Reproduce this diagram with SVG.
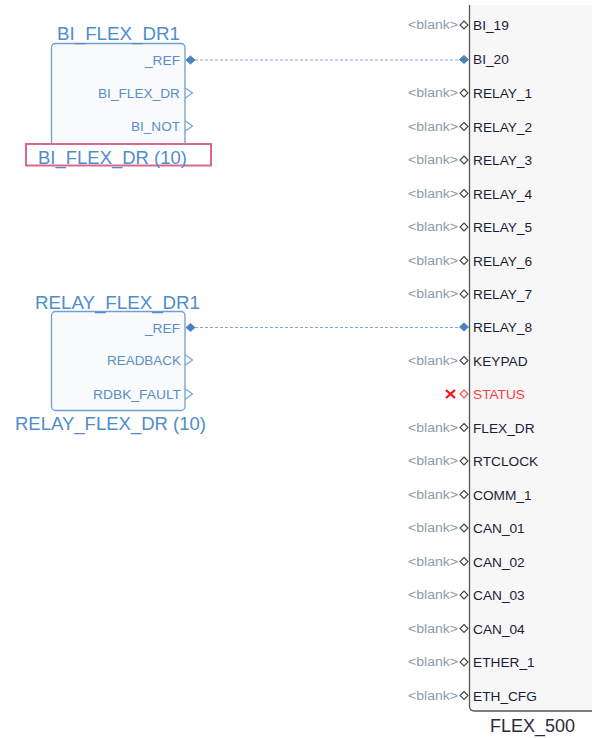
<svg xmlns="http://www.w3.org/2000/svg" width="592" height="738" viewBox="0 0 592 738">
<defs>
<style>
.blk{fill:#f9fafb;stroke:#6f9fd0;stroke-width:1.3}
.title{font-family:"Liberation Sans",Arial,sans-serif;font-size:18.5px;fill:#4f8dcb}
.pin{font-family:"Liberation Sans",Arial,sans-serif;font-size:13.7px;fill:#5a8ec8}
.fl{font-family:"Liberation Sans",Arial,sans-serif;font-size:13.7px;fill:#1c1c38}
.bl{font-family:"Liberation Sans",Arial,sans-serif;font-size:12.5px;fill:#8e9bab}
.hd{fill:#ffffff;stroke:#444;stroke-width:1.1}
.fd{fill:#4a84c0;stroke:#4a84c0;stroke-width:1}
.tri{fill:none;stroke:#6f9fd0;stroke-width:1.1}
.wire{stroke:#7ea6d3;stroke-width:1.2;stroke-dasharray:3,2;fill:none}
</style>
</defs>

<g id="FLEX_500">
<path d="M469.5,5 V706 Q469.5,711 474.5,711 H600 V5 Z" fill="#f7f7f7" stroke="none"/>
<path d="M469.5,5 V706 Q469.5,711 474.5,711 H600" fill="none" stroke="#555" stroke-width="1.3"/>
<text x="490" y="732" font-family="'Liberation Sans',Arial,sans-serif" font-size="18" fill="#2a2a3a" textLength="85" lengthAdjust="spacingAndGlyphs">FLEX_500</text>
<g class="rows">
<text class="bl" x="408" y="29" textLength="50" lengthAdjust="spacingAndGlyphs">&lt;blank&gt;</text><path class="hd" d="M464,21 L468,25 L464,29 L460,25 Z"/><text class="fl" x="473" y="30">BI_19</text>
<path class="fd" d="M464,55.5 L468.5,59.5 L464,63.5 L459.5,59.5 Z"/><text class="fl" x="473" y="64">BI_20</text>
<text class="bl" x="408" y="97" textLength="50" lengthAdjust="spacingAndGlyphs">&lt;blank&gt;</text><path class="hd" d="M464,89 L468,93 L464,97 L460,93 Z"/><text class="fl" x="473" y="98">RELAY_1</text>
<text class="bl" x="408" y="130.5" textLength="50" lengthAdjust="spacingAndGlyphs">&lt;blank&gt;</text><path class="hd" d="M464,122.5 L468,126.5 L464,130.5 L460,126.5 Z"/><text class="fl" x="473" y="131.5">RELAY_2</text>
<text class="bl" x="408" y="164" textLength="50" lengthAdjust="spacingAndGlyphs">&lt;blank&gt;</text><path class="hd" d="M464,156 L468,160 L464,164 L460,160 Z"/><text class="fl" x="473" y="165">RELAY_3</text>
<text class="bl" x="408" y="197.5" textLength="50" lengthAdjust="spacingAndGlyphs">&lt;blank&gt;</text><path class="hd" d="M464,189.5 L468,193.5 L464,197.5 L460,193.5 Z"/><text class="fl" x="473" y="198.5">RELAY_4</text>
<text class="bl" x="408" y="231" textLength="50" lengthAdjust="spacingAndGlyphs">&lt;blank&gt;</text><path class="hd" d="M464,223 L468,227 L464,231 L460,227 Z"/><text class="fl" x="473" y="232">RELAY_5</text>
<text class="bl" x="408" y="264.5" textLength="50" lengthAdjust="spacingAndGlyphs">&lt;blank&gt;</text><path class="hd" d="M464,256.5 L468,260.5 L464,264.5 L460,260.5 Z"/><text class="fl" x="473" y="265.5">RELAY_6</text>
<text class="bl" x="408" y="298" textLength="50" lengthAdjust="spacingAndGlyphs">&lt;blank&gt;</text><path class="hd" d="M464,290 L468,294 L464,298 L460,294 Z"/><text class="fl" x="473" y="299">RELAY_7</text>
<path class="fd" d="M464,323 L468.5,327 L464,331 L459.5,327 Z"/><text class="fl" x="473" y="332">RELAY_8</text>
<text class="bl" x="408" y="364.5" textLength="50" lengthAdjust="spacingAndGlyphs">&lt;blank&gt;</text><path class="hd" d="M464,356.5 L468,360.5 L464,364.5 L460,360.5 Z"/><text class="fl" x="473" y="365.5">KEYPAD</text>
<path d="M446,390 L455,398 M455,390 L446,398" stroke="#ee1111" stroke-width="2.2" fill="none"/><path d="M464,390 L468,394 L464,398 L460,394 Z" fill="#fff" stroke="#ff4d4d" stroke-width="1.1"/><text class="fl" x="473" y="399" style="fill:#ff3b3b">STATUS</text>
<text class="bl" x="408" y="431.5" textLength="50" lengthAdjust="spacingAndGlyphs">&lt;blank&gt;</text><path class="hd" d="M464,423.5 L468,427.5 L464,431.5 L460,427.5 Z"/><text class="fl" x="473" y="432.5">FLEX_DR</text>
<text class="bl" x="408" y="465" textLength="50" lengthAdjust="spacingAndGlyphs">&lt;blank&gt;</text><path class="hd" d="M464,457 L468,461 L464,465 L460,461 Z"/><text class="fl" x="473" y="466">RTCLOCK</text>
<text class="bl" x="408" y="498.5" textLength="50" lengthAdjust="spacingAndGlyphs">&lt;blank&gt;</text><path class="hd" d="M464,490.5 L468,494.5 L464,498.5 L460,494.5 Z"/><text class="fl" x="473" y="499.5">COMM_1</text>
<text class="bl" x="408" y="532" textLength="50" lengthAdjust="spacingAndGlyphs">&lt;blank&gt;</text><path class="hd" d="M464,524 L468,528 L464,532 L460,528 Z"/><text class="fl" x="473" y="533">CAN_01</text>
<text class="bl" x="408" y="565.5" textLength="50" lengthAdjust="spacingAndGlyphs">&lt;blank&gt;</text><path class="hd" d="M464,557.5 L468,561.5 L464,565.5 L460,561.5 Z"/><text class="fl" x="473" y="566.5">CAN_02</text>
<text class="bl" x="408" y="599" textLength="50" lengthAdjust="spacingAndGlyphs">&lt;blank&gt;</text><path class="hd" d="M464,591 L468,595 L464,599 L460,595 Z"/><text class="fl" x="473" y="600">CAN_03</text>
<text class="bl" x="408" y="632.5" textLength="50" lengthAdjust="spacingAndGlyphs">&lt;blank&gt;</text><path class="hd" d="M464,624.5 L468,628.5 L464,632.5 L460,628.5 Z"/><text class="fl" x="473" y="633.5">CAN_04</text>
<text class="bl" x="408" y="666" textLength="50" lengthAdjust="spacingAndGlyphs">&lt;blank&gt;</text><path class="hd" d="M464,658 L468,662 L464,666 L460,662 Z"/><text class="fl" x="473" y="667">ETHER_1</text>
<text class="bl" x="408" y="699.5" textLength="50" lengthAdjust="spacingAndGlyphs">&lt;blank&gt;</text><path class="hd" d="M464,691.5 L468,695.5 L464,699.5 L460,695.5 Z"/><text class="fl" x="473" y="700.5">ETH_CFG</text>
</g>
</g>

<g id="BI_FLEX_DR1">
<rect class="blk" x="51.5" y="43.5" width="133.5" height="104" rx="4"/>
<text class="title" x="57" y="40" textLength="123" lengthAdjust="spacingAndGlyphs">BI_FLEX_DR1</text>
<text class="pin" x="145" y="65" textLength="35" lengthAdjust="spacingAndGlyphs">_REF</text>
<path class="fd" d="M190.5,56 L195,60 L190.5,64 L186,60 Z"/>
<text class="pin" x="98" y="98" textLength="82" lengthAdjust="spacingAndGlyphs">BI_FLEX_DR</text>
<polyline class="tri" points="185.5,88 192.5,93 185.5,98"/>
<text class="pin" x="131" y="131" textLength="49" lengthAdjust="spacingAndGlyphs">BI_NOT</text>
<polyline class="tri" points="185.5,121 192.5,126 185.5,131"/>
<rect x="26" y="144" width="185" height="21.5" fill="#ffffff" stroke="#d8688f" stroke-width="2"/>
<text class="title" x="38" y="163.5" textLength="149" lengthAdjust="spacingAndGlyphs">BI_FLEX_DR (10)</text>
</g>

<g id="RELAY_FLEX_DR1">
<rect class="blk" x="51.5" y="311.5" width="133.5" height="99" rx="4"/>
<text class="title" x="35" y="308.5" textLength="165" lengthAdjust="spacingAndGlyphs">RELAY_FLEX_DR1</text>
<text class="pin" x="145" y="332.5" textLength="35" lengthAdjust="spacingAndGlyphs">_REF</text>
<path class="fd" d="M190.5,323.5 L195,327.5 L190.5,331.5 L186,327.5 Z"/>
<text class="pin" x="107" y="365" textLength="74" lengthAdjust="spacingAndGlyphs">READBACK</text>
<polyline class="tri" points="185.5,355 192.5,360 185.5,365"/>
<text class="pin" x="93" y="399" textLength="88" lengthAdjust="spacingAndGlyphs">RDBK_FAULT</text>
<polyline class="tri" points="185.5,389 192.5,394 185.5,399"/>
<text class="title" x="15" y="430" textLength="191" lengthAdjust="spacingAndGlyphs">RELAY_FLEX_DR (10)</text>
</g>

<g id="connectors">
<line class="wire" x1="195" y1="60" x2="460" y2="60"/>
<line class="wire" x1="195" y1="327.5" x2="460" y2="327.5"/>
</g>
</svg>
